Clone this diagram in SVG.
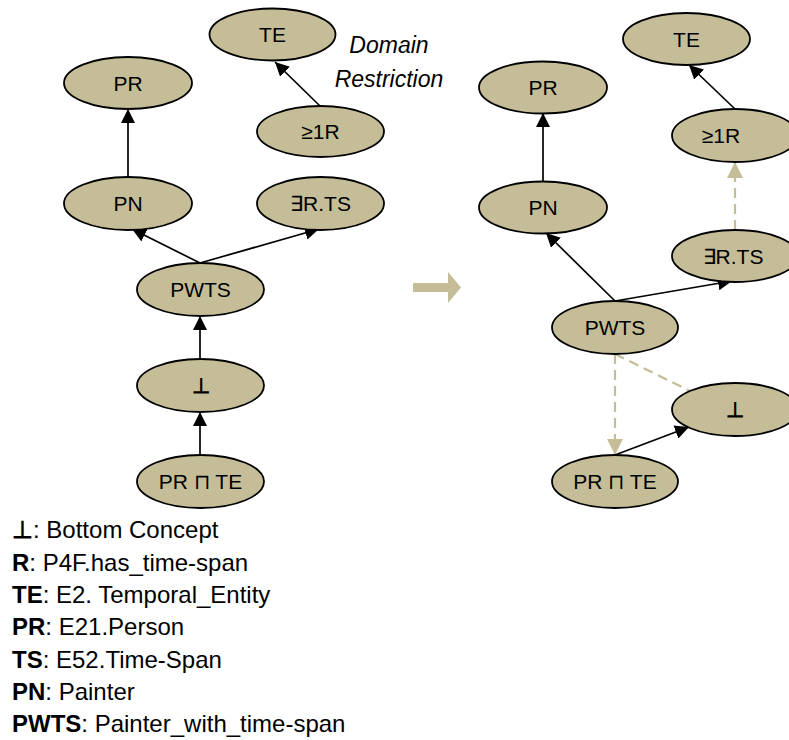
<svg xmlns="http://www.w3.org/2000/svg" width="789" height="740" viewBox="0 0 789 740">
<style>
.node ellipse{fill:#C4BD97;stroke:#000;stroke-width:1.8}
.node text{font-family:"Liberation Sans",Arial,sans-serif;font-size:21px;fill:#000;text-anchor:middle}
.node text.sym{font-weight:bold}
.edge{stroke:#000;stroke-width:1.7;fill:none}
.dash{stroke:#C4BD97;stroke-width:2.2;stroke-dasharray:10,6;fill:none}
.note{font-family:"Liberation Sans",Arial,sans-serif;font-size:23px;font-style:italic;fill:#000;text-anchor:middle}
.legend{font-family:"Liberation Sans",Arial,sans-serif;font-size:24px;fill:#000}
.b{font-weight:bold}
</style>
<defs>
<marker id="ah" markerUnits="userSpaceOnUse" markerWidth="15" markerHeight="14" refX="14" refY="7" orient="auto">
<path d="M0,0 L14,7 L0,14 Z" fill="#000"/>
</marker>
<marker id="ahb" markerUnits="userSpaceOnUse" markerWidth="17" markerHeight="16" refX="16" refY="8" orient="auto">
<path d="M0,0 L16,8 L0,16 Z" fill="#C4BD97"/>
</marker>
</defs>

<g id="connectors">
<!-- left -->
<line class="edge" x1="128" y1="177" x2="128" y2="109" marker-end="url(#ah)"/>
<line class="edge" x1="320" y1="106" x2="275" y2="62" marker-end="url(#ah)"/>
<line class="edge" x1="200" y1="263" x2="132" y2="229" marker-end="url(#ah)"/>
<line class="edge" x1="200" y1="263" x2="319" y2="229" marker-end="url(#ah)"/>
<line class="edge" x1="200" y1="359" x2="200" y2="316" marker-end="url(#ah)"/>
<line class="edge" x1="200" y1="455" x2="200" y2="412" marker-end="url(#ah)"/>
<!-- right -->
<line class="edge" x1="543" y1="182" x2="543" y2="113" marker-end="url(#ah)"/>
<line class="edge" x1="735" y1="109" x2="689" y2="65" marker-end="url(#ah)"/>
<line class="edge" x1="615" y1="301" x2="546" y2="233" marker-end="url(#ah)"/>
<line class="edge" x1="615" y1="301" x2="732" y2="281" marker-end="url(#ah)"/>
<line class="dash" x1="735" y1="230" x2="735" y2="162" marker-end="url(#ahb)"/>
<line class="dash" x1="615" y1="354" x2="615" y2="455" marker-end="url(#ahb)"/>
<line class="dash" x1="615" y1="354" x2="690" y2="391"/>
<line class="edge" x1="615" y1="455" x2="689" y2="427" marker-end="url(#ah)"/>
</g>

<!-- transition arrow -->
<path d="M413,283 L448,283 L448,272 L461,287.5 L448,303 L448,292 L413,292 Z" fill="#C4BD97"/>

<text class="note" x="389" y="53">Domain</text>
<text class="note" x="389" y="87">Restriction</text>

<!-- left nodes -->
<g id="L_TE" class="node"><ellipse cx="272.5" cy="34.5" rx="63" ry="26"/><text x="272.5" y="42">TE</text></g>
<g id="L_PR" class="node"><ellipse cx="128" cy="83" rx="64" ry="26"/><text x="128" y="90.5">PR</text></g>
<g id="L_GE1R" class="node"><ellipse cx="320.5" cy="131.5" rx="63.5" ry="25.5"/><text x="320.5" y="139">≥1R</text></g>
<g id="L_PN" class="node"><ellipse cx="128" cy="203.5" rx="64" ry="26.5"/><text x="128" y="211">PN</text></g>
<g id="L_ERTS" class="node"><ellipse cx="320.5" cy="203.5" rx="63.5" ry="26.5"/><text x="320.5" y="211">∃R.TS</text></g>
<g id="L_PWTS" class="node"><ellipse cx="200.5" cy="289.5" rx="63.5" ry="26.5"/><text x="200.5" y="297">PWTS</text></g>
<g id="L_BOT" class="node"><ellipse cx="200.5" cy="385.5" rx="63.5" ry="26.5"/><text class="sym" x="200.5" y="393">⊥</text></g>
<g id="L_PRTE" class="node"><ellipse cx="200.5" cy="481.5" rx="63.5" ry="26.5"/><text x="200.5" y="489">PR ⊓ TE</text></g>

<!-- right nodes -->
<g id="R_TE" class="node"><ellipse cx="686.5" cy="39" rx="63.5" ry="26"/><text x="686.5" y="46.5">TE</text></g>
<g id="R_PR" class="node"><ellipse cx="543" cy="87.5" rx="64" ry="26"/><text x="543" y="95">PR</text></g>
<g id="R_GE1R" class="node"><ellipse cx="735" cy="135.5" rx="63" ry="26.5"/><text x="721" y="143">≥1R</text></g>
<g id="R_PN" class="node"><ellipse cx="543" cy="207.5" rx="64" ry="26"/><text x="543" y="215">PN</text></g>
<g id="R_ERTS" class="node"><ellipse cx="735" cy="256" rx="63" ry="26"/><text x="733" y="263.5">∃R.TS</text></g>
<g id="R_PWTS" class="node"><ellipse cx="615" cy="327.5" rx="63" ry="26.5"/><text x="615" y="335">PWTS</text></g>
<g id="R_BOT" class="node"><ellipse cx="735" cy="409.5" rx="63" ry="26.5"/><text class="sym" x="735" y="417">⊥</text></g>
<g id="R_PRTE" class="node"><ellipse cx="615" cy="481.5" rx="63" ry="26.5"/><text x="615" y="489">PR ⊓ TE</text></g>

<!-- legend -->
<g id="legend" class="legend">
<text x="12" y="538"><tspan class="b">⊥</tspan>: Bottom Concept</text>
<text x="12" y="571"><tspan class="b">R</tspan>: P4F.has_time-span</text>
<text x="12" y="603"><tspan class="b">TE</tspan>: E2. Temporal_Entity</text>
<text x="12" y="635"><tspan class="b">PR</tspan>: E21.Person</text>
<text x="12" y="668"><tspan class="b">TS</tspan>: E52.Time-Span</text>
<text x="12" y="700"><tspan class="b">PN</tspan>: Painter</text>
<text x="12" y="732"><tspan class="b">PWTS</tspan>: Painter_with_time-span</text>
</g>
</svg>
